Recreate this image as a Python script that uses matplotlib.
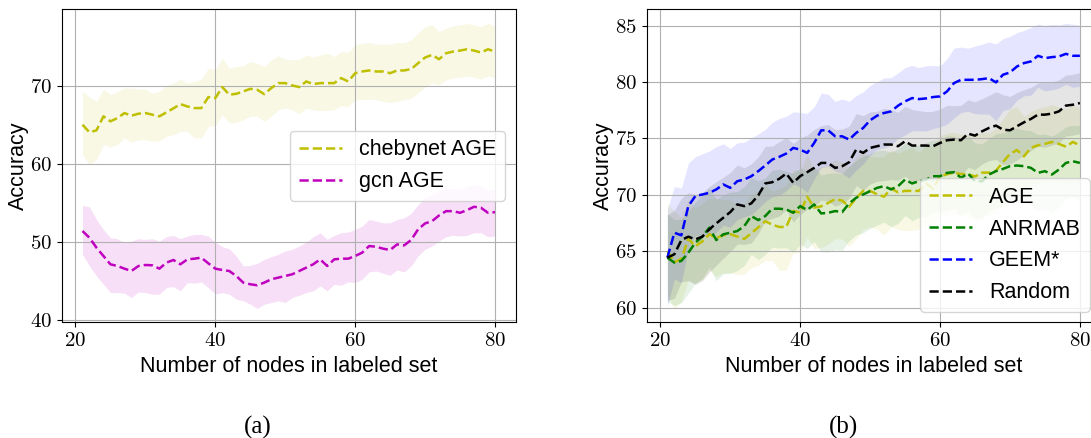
import matplotlib
matplotlib.use("Agg")
import matplotlib.pyplot as plt

# labeled-set sizes on the x axis
nodes = list(range(21, 81))

# (a) chebynet AGE / (b) AGE : mean and band edges
age_mean = [65.01, 64.03, 64.29, 66.08, 65.44, 65.86, 66.5, 66.16, 66.42, 66.5,
            66.29, 66.08, 66.59, 67.1, 67.65, 67.35, 67.14, 67.14, 68.55, 68.42,
            69.83, 68.85, 68.97, 69.27, 69.61, 69.48, 68.93, 69.7, 70.34, 70.34,
            70.04, 69.83, 70.55, 70.21, 70.34, 70.34, 70.34, 70.98, 70.55, 71.61,
            71.83, 71.96, 71.83, 71.83, 71.61, 71.96, 71.96, 72.13, 72.89, 73.62,
            73.96, 73.4, 74.17, 74.38, 74.51, 74.68, 74.51, 74.26, 74.68, 74.38]
age_upper = [69.27, 68.55, 67.99, 69.57, 68.85, 69.27, 69.7, 69.7, 69.57, 69.57,
             69.06, 69.27, 70.0, 70.34, 70.85, 70.34, 70.55, 70.85, 72.25, 72.04,
             73.53, 72.25, 72.46, 72.55, 73.1, 72.89, 72.46, 73.31, 73.83, 73.4,
             73.31, 73.4, 73.96, 73.66, 73.96, 74.17, 73.74, 74.38, 74.26, 75.24,
             75.45, 75.53, 75.36, 75.32, 75.32, 75.53, 75.53, 75.88, 76.73, 77.58,
             77.79, 76.94, 77.37, 77.67, 77.79, 78.0, 77.79, 77.58, 78.0, 77.67]
age_lower = [61.18, 59.9, 60.54, 62.45, 62.16, 62.45, 63.31, 62.75, 63.09, 63.09,
             62.88, 62.97, 63.52, 63.73, 64.16, 64.16, 63.31, 63.31, 64.8, 64.88,
             66.29, 65.22, 65.31, 65.65, 66.08, 66.08, 65.44, 66.08, 66.93, 67.14,
             66.93, 66.42, 67.14, 66.93, 66.8, 66.84, 66.93, 67.44, 67.35, 68.21,
             68.21, 68.29, 68.21, 67.99, 67.87, 67.99, 68.21, 68.42, 69.06, 69.83,
             70.34, 70.12, 70.76, 70.98, 71.1, 71.19, 71.1, 70.85, 71.27, 71.06]

# (a) gcn AGE
gcn_mean = [51.38, 50.52, 49.25, 48.18, 47.12, 46.9, 46.56, 46.26, 46.9, 47.03,
            46.99, 46.56, 47.33, 47.67, 47.12, 47.75, 47.84, 47.97, 47.24, 46.56,
            46.39, 46.26, 45.62, 44.77, 44.56, 44.43, 44.77, 45.2, 45.41, 45.62,
            45.84, 46.26, 46.69, 47.12, 47.75, 46.9, 47.75, 47.84, 47.84, 48.18,
            48.61, 49.46, 49.37, 49.12, 48.95, 49.67, 49.54, 50.23, 51.59, 52.36,
            52.65, 53.38, 53.93, 53.93, 53.72, 54.06, 54.49, 54.36, 53.72, 53.8]
gcn_upper = [54.66, 54.49, 52.87, 51.59, 50.52, 50.4, 49.88, 50.1, 50.4, 50.31,
             50.4, 50.1, 50.65, 50.82, 50.4, 50.74, 50.95, 50.95, 50.74, 49.97,
             49.37, 49.12, 48.18, 46.9, 46.99, 47.24, 47.75, 48.1, 48.39, 48.82,
             49.03, 49.46, 49.97, 50.65, 51.16, 50.31, 50.82, 51.16, 51.25, 51.59,
             52.02, 52.87, 52.65, 52.44, 52.44, 52.87, 53.08, 53.63, 54.78, 55.64,
             56.06, 56.49, 56.92, 56.79, 56.7, 57.04, 57.34, 57.13, 56.62, 56.79]
gcn_lower = [48.39, 46.9, 45.62, 44.56, 43.49, 43.49, 43.41, 42.85, 43.58, 43.49,
             43.28, 43.28, 44.13, 44.26, 43.71, 44.77, 44.69, 44.86, 44.13, 43.28,
             43.49, 43.28, 42.64, 42.43, 42.0, 41.45, 42.0, 42.22, 42.43, 42.22,
             42.85, 43.15, 43.49, 43.71, 44.35, 43.71, 44.56, 44.43, 44.86, 44.77,
             45.2, 46.14, 46.26, 45.97, 45.71, 46.39, 46.14, 46.9, 48.18, 49.03,
             49.46, 50.1, 50.65, 50.82, 50.74, 50.82, 51.16, 51.16, 50.65, 50.74]

# (b) ANRMAB
anrmab_mean = [64.42, 63.98, 64.13, 64.86, 65.75, 66.28, 67.08, 65.98, 66.49, 66.63,
               66.78, 67.22, 68.11, 67.75, 68.11, 68.76, 68.76, 68.7, 68.4, 68.99,
               68.64, 69.14, 68.34, 68.4, 68.55, 68.46, 69.23, 69.73, 70.02, 70.32,
               70.61, 70.76, 70.47, 70.76, 71.35, 71.0, 71.2, 71.35, 71.64, 71.64,
               71.94, 72.0, 71.5, 71.88, 71.2, 71.2, 71.79, 72.09, 72.29, 72.53,
               72.59, 72.53, 72.38, 71.94, 72.09, 71.79, 72.23, 72.82, 72.97, 72.82]
anrmab_std = [3.9, 3.8, 3.7, 3.6, 3.6, 3.7, 3.5, 3.6, 3.5, 3.6,
              3.5, 3.5, 3.4, 3.5, 3.4, 3.4, 3.5, 3.4, 3.5, 3.4,
              3.4, 3.3, 3.4, 3.5, 3.4, 3.4, 3.3, 3.3, 3.4, 3.3,
              3.3, 3.2, 3.3, 3.3, 3.2, 3.3, 3.2, 3.3, 3.2, 3.2,
              3.3, 3.2, 3.3, 3.3, 3.4, 3.3, 3.2, 3.3, 3.2, 3.2,
              3.3, 3.2, 3.3, 3.4, 3.3, 3.4, 3.3, 3.2, 3.2, 3.3]

# (b) GEEM*
geem_mean = [64.42, 66.63, 66.4, 68.99, 69.88, 70.02, 70.17, 70.47, 70.91, 70.61,
             71.2, 71.35, 71.64, 72.09, 72.59, 73.12, 73.36, 73.65, 74.15, 74.0,
             73.71, 74.59, 75.71, 75.71, 75.18, 75.18, 74.89, 75.48, 75.92, 76.6,
             77.01, 77.25, 77.39, 77.9, 78.28, 78.57, 78.48, 78.54, 78.66, 78.72,
             79.16, 79.9, 80.19, 80.19, 80.19, 80.25, 80.34, 79.96, 80.64, 80.84,
             81.37, 81.67, 81.82, 82.32, 82.11, 82.2, 82.26, 82.49, 82.32, 82.32]
geem_std = [4.3, 4.1, 4.2, 3.8, 3.5, 3.6, 3.7, 3.8, 3.6, 3.5,
            3.4, 3.3, 3.4, 3.3, 3.2, 3.3, 3.4, 3.3, 3.2, 3.3,
            3.5, 3.2, 3.3, 3.2, 3.1, 3.3, 3.4, 3.3, 3.2, 3.1,
            3.0, 3.1, 3.0, 2.9, 3.0, 2.9, 2.8, 2.9, 2.8, 2.7,
            2.9, 3.1, 2.9, 2.8, 3.0, 3.1, 3.2, 3.4, 3.2, 3.2,
            3.0, 2.9, 3.0, 2.8, 2.9, 2.9, 2.8, 2.7, 2.8, 2.7]

# (b) Random
random_mean = [64.42, 64.72, 65.98, 66.28, 66.04, 66.28, 66.93, 67.46, 67.96, 68.46,
               69.14, 68.99, 69.23, 69.94, 71.0, 71.11, 71.41, 71.88, 71.06, 71.65,
               72.0, 72.38, 72.82, 72.82, 72.38, 72.53, 72.88, 74.0, 73.71, 74.15,
               74.3, 74.45, 74.45, 74.3, 74.74, 74.36, 74.36, 74.36, 74.3, 74.59,
               74.83, 74.89, 74.83, 75.42, 75.24, 75.62, 75.92, 76.13, 75.77, 75.71,
               76.07, 76.42, 76.72, 77.1, 77.1, 77.19, 77.39, 77.9, 77.98, 78.13]
random_std = [3.8, 3.9, 3.7, 3.9, 4.0, 3.9, 3.8, 3.7, 3.6, 3.5,
              3.5, 3.4, 3.5, 3.4, 3.3, 3.2, 3.3, 3.2, 3.5, 3.4,
              3.3, 3.4, 3.3, 3.4, 3.4, 3.3, 3.2, 3.2, 3.3, 3.2,
              3.1, 3.2, 3.1, 3.0, 3.1, 3.2, 3.1, 3.0, 3.1, 3.0,
              3.1, 3.0, 3.1, 3.0, 3.0, 2.9, 2.9, 3.0, 3.1, 3.0,
              3.0, 2.9, 2.8, 2.8, 2.9, 2.8, 2.8, 2.7, 2.7, 2.7]

sans = 'Liberation Sans'
plt.rcParams['font.family'] = 'cmr10'
plt.rcParams['axes.formatter.use_mathtext'] = True

fig = plt.figure(figsize=(10.91, 4.38), dpi=100)
ax1 = fig.add_axes([0.0567, 0.2637, 0.4159, 0.7158])
ax2 = fig.add_axes([0.5928, 0.2637, 0.4159, 0.7158])

lw = 1.8

# (a)
ax1.plot(nodes, age_mean, 'y--', lw=lw, label='chebynet AGE')
ax1.fill_between(nodes, age_lower, age_upper, color='y', alpha=0.1, lw=0)
ax1.plot(nodes, gcn_mean, 'm--', lw=lw, label='gcn AGE')
ax1.fill_between(nodes, gcn_lower, gcn_upper, color='m', alpha=0.12, lw=0)
ax1.set_ylim(39.66, 79.84)
ax1.set_yticks([40, 50, 60, 70])
ax1.legend(loc='center right', prop={'family': sans, 'size': 15.5})

# (b)
ax2.plot(nodes, age_mean, 'y--', lw=lw, label='AGE')
ax2.fill_between(nodes, age_lower, age_upper, color='y', alpha=0.1, lw=0)
for mean, std, c, name in [(anrmab_mean, anrmab_std, 'g', 'ANRMAB'),
                           (geem_mean, geem_std, 'b', 'GEEM*'),
                           (random_mean, random_std, 'k', 'Random')]:
    lo = [m - s for m, s in zip(mean, std)]
    hi = [m + s for m, s in zip(mean, std)]
    ax2.plot(nodes, mean, c + '--', lw=lw, label=name)
    ax2.fill_between(nodes, lo, hi, color=c, alpha=0.1, lw=0)
ax2.set_ylim(58.67, 86.47)
ax2.set_yticks([60, 65, 70, 75, 80, 85])
ax2.legend(loc='lower right', prop={'family': sans, 'size': 15.5})

for ax in (ax1, ax2):
    ax.set_xlim(18.05, 82.95)
    ax.set_xticks([20, 40, 60, 80])
    ax.grid(True)
    ax.set_xlabel('Number of nodes in labeled set', fontfamily=sans, fontsize=15.5)
    ax.set_ylabel('Accuracy', fontfamily=sans, fontsize=15.5, labelpad=1)
    ax.tick_params(labelsize=15)

fig.text(257.5 / 1091, 1 - 427 / 438, '(a)', family='Liberation Serif', fontsize=18,
         ha='center', va='center')
fig.text(843 / 1091, 1 - 427 / 438, '(b)', family='Liberation Serif', fontsize=18,
         ha='center', va='center')

fig.savefig('out.png', dpi=100)
